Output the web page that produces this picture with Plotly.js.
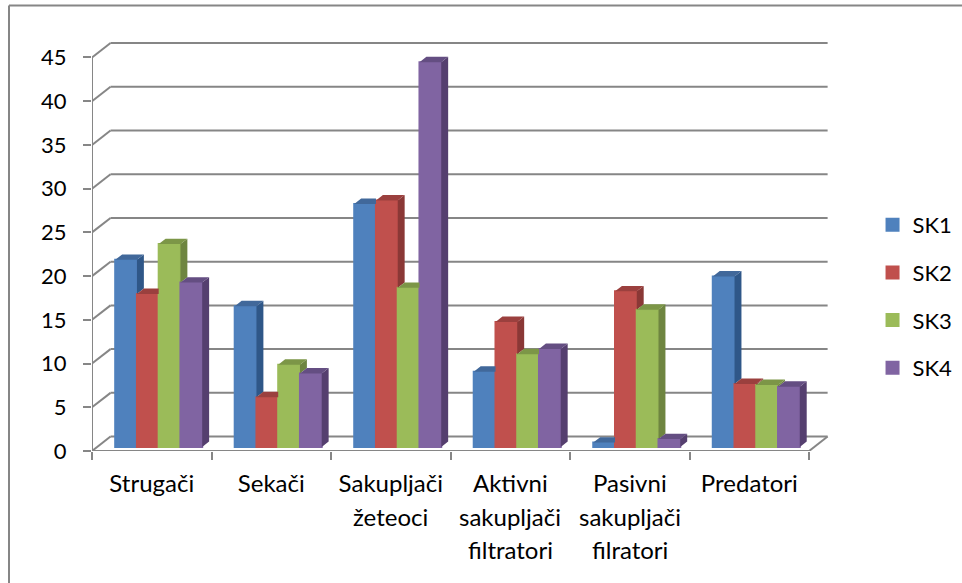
<!DOCTYPE html>
<html>
<head>
<meta charset="utf-8">
<script src="https://cdn.plot.ly/plotly-3.0.1.min.js"></script>
<style>html,body{margin:0;padding:0;background:#fff}</style>
</head>
<body>
<div id="graphics"></div>
<script>
var labelLines = [
  ['Strugači'],
  ['Sekači'],
  ['Sakupljači', 'žeteoci'],
  ['Aktivni', 'sakupljači', 'filtratori'],
  ['Pasivni', 'sakupljači', 'filratori'],
  ['Predatori']
];
var seriesNames = ['SK1', 'SK2', 'SK3', 'SK4'];
var sk1 = [21.4, 16.1, 27.8, 8.6, 0.5, 19.5];
var sk2 = [17.5, 5.7, 28.2, 14.3, 17.8, 7.2];
var sk3 = [23.2, 9.4, 18.2, 10.6, 15.7, 7.1];
var sk4 = [18.8, 8.4, 44.0, 11.2, 0.9, 6.9];
var yTicks = [0, 5, 10, 15, 20, 25, 30, 35, 40, 45];

var frontColors = ['#4f81bd', '#c0504d', '#9bbb59', '#8064a2'];
var sideColors = ['#2f5788', '#8a3836', '#6e8540', '#553f6f'];
var topColors = ['#41689a', '#9b403e', '#7c9647', '#644e82'];

var values = [sk1, sk2, sk3, sk4];
var font = 'Lato, sans-serif';
var gray = '#868686';

// depth of the box and of the bars, in axis units
var wallX = 0.155, wallY = 1.65;
var shiftX = 0.058, shiftY = 0.46;
var barW = 0.182, depthX = 0.058, depthY = 0.62;

var traces = [];
var centers = labelLines.map(function(l, i) { return i + 0.5; });

values.forEach(function(vals, s) {
  traces.push({
    type: 'bar',
    name: seriesNames[s],
    legendgroup: seriesNames[s],
    x: centers.map(function(c) { return c + shiftX + (s - 1.5) * barW; }),
    y: vals,
    base: vals.map(function() { return shiftY; }),
    width: barW,
    marker: {color: frontColors[s], line: {color: frontColors[s], width: 2}},
    hoverinfo: 'skip'
  });
});

// top and side faces are scatter fills, they sit above the bar layer
// so anything the next bar would hide is cut off here
values.forEach(function(vals, s) {
  var next = values[s + 1];
  var sx = [], sy = [], tx = [], ty = [];
  vals.forEach(function(v, i) {
    var left = centers[i] + shiftX + (s - 2) * barW;
    var right = left + barW;
    var top = v + shiftY;
    var low = next ? Math.min(next[i] + shiftY, top) : shiftY;
    var blocked = next && next[i] > v;
    if (!next || next[i] < v) {
      sx.push(right, right, right + depthX, right + depthX, null);
      sy.push(low, top, top + depthY, low + depthY, null);
    }
    tx.push(left, right, blocked ? right : right + depthX, left + depthX, null);
    ty.push(top, top, top + depthY, top + depthY, null);
  });
  traces.push({x: sx, y: sy, mode: 'none', fill: 'toself', fillcolor: sideColors[s], showlegend: false, hoverinfo: 'skip'});
  traces.push({x: tx, y: ty, mode: 'none', fill: 'toself', fillcolor: topColors[s], showlegend: false, hoverinfo: 'skip'});
});

// back wall lines and floor
var n = labelLines.length;
var gridStyle = {color: gray, width: 2};
var shapes = [];
function lineShape(x0, y0, x1, y1) {
  shapes.push({type: 'line', xref: 'x', yref: 'y', x0: x0, y0: y0, x1: x1, y1: y1, line: gridStyle, layer: 'below'});
}
yTicks.forEach(function(t) {
  lineShape(0, t, wallX, t + wallY);
  lineShape(wallX, t + wallY, n + wallX, t + wallY);
});
lineShape(0, 0, 0, 45);
lineShape(0, 0, n, 0);
lineShape(n, 0, n + wallX, wallY);

// frame of the chart, only top and left are in the picture
var frameX = -83 / 741, frameY = 445.5 / 411;
[[frameX, frameY, 870 / 741, frameY], [frameX, frameY, frameX, -132 / 411]].forEach(function(f) {
  shapes.push({type: 'line', xref: 'paper', yref: 'paper', x0: f[0], y0: f[1], x1: f[2], y1: f[3], line: gridStyle, layer: 'below'});
});

var annotations = [];
labelLines.forEach(function(lines, i) {
  lines.slice(1).forEach(function(line, k) {
    annotations.push({
      xref: 'x', yref: 'y', x: centers[i], y: 0,
      text: line, showarrow: false, yanchor: 'middle',
      yshift: -33 * (k + 1) - 32, font: {family: font, size: 24, color: '#000'}
    });
  });
});

var layout = {
  width: 962,
  height: 583,
  margin: {l: 92, r: 129, t: 40, b: 132, pad: 0},
  paper_bgcolor: '#fff',
  plot_bgcolor: 'rgba(0,0,0,0)',
  barmode: 'overlay',
  showlegend: true,
  legend: {
    xref: 'container', yref: 'container',
    x: 0.907, y: 0.65, xanchor: 'left', yanchor: 'top',
    font: {family: font, size: 22, color: '#000'},
    traceorder: 'grouped', tracegroupgap: 16, itemwidth: 30,
    bgcolor: 'rgba(0,0,0,0)'
  },
  xaxis: {
    range: [0, n + 0.2],
    tickmode: 'array',
    tickvals: centers,
    ticktext: labelLines.map(function(l) { return l[0]; }),
    ticks: '',
    ticklabelstandoff: 16,
    tickfont: {family: font, size: 24, color: '#000'},
    showgrid: false,
    zeroline: false,
    showline: false,
    minor: {
      tickmode: 'array',
      tickvals: centers.map(function(c) { return c - 0.5; }).concat([n]),
      ticks: 'outside', ticklen: 8, tickwidth: 2, tickcolor: gray, showgrid: false
    }
  },
  yaxis: {
    range: [0, 47],
    tickmode: 'array',
    tickvals: yTicks,
    ticks: 'outside', ticklen: 8, tickwidth: 2, tickcolor: gray,
    ticklabelstandoff: 12,
    tickfont: {family: font, size: 22, color: '#000'},
    showgrid: false,
    zeroline: false,
    showline: false
  },
  shapes: shapes,
  annotations: annotations,
  bargap: 0
};

Plotly.newPlot('graphics', traces, layout, {displayModeBar: false, staticPlot: true});
</script>
</body>
</html>
